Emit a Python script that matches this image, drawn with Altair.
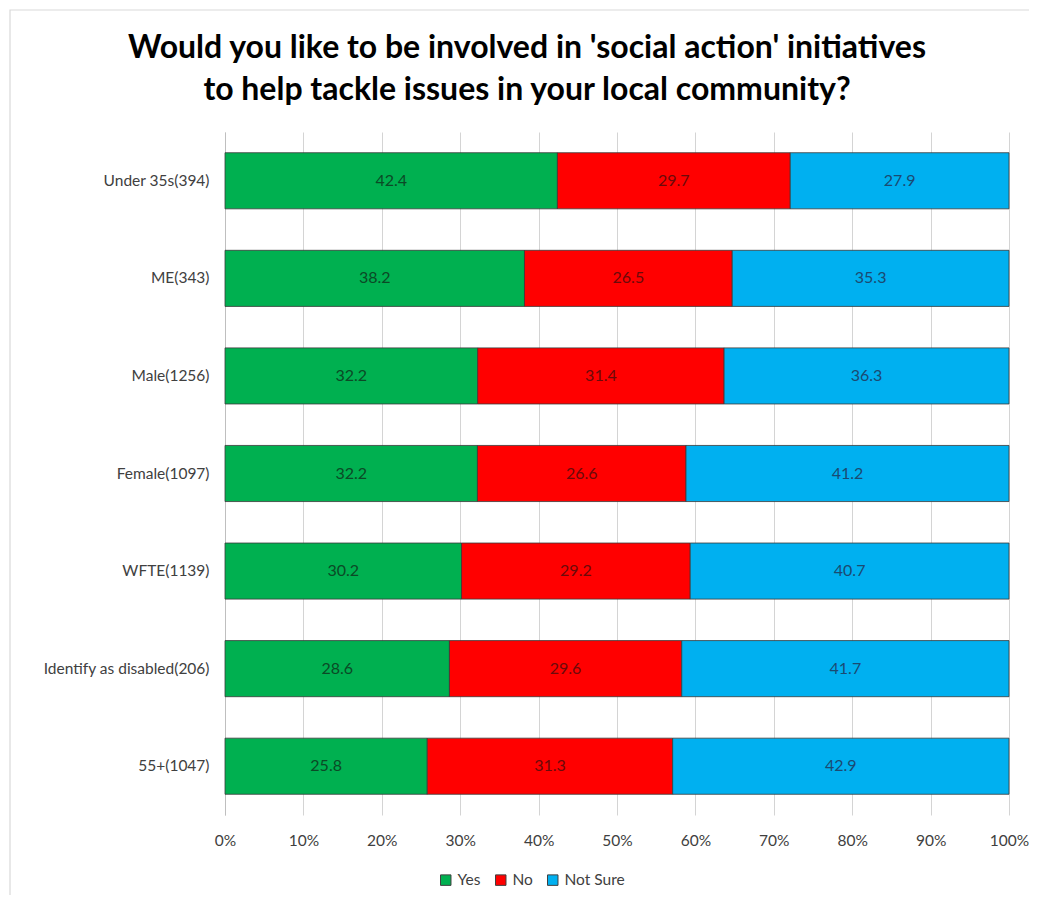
import altair as alt
import pandas as pd

categories = ["Under 35s(394)", "ME(343)", "Male(1256)", "Female(1097)",
              "WFTE(1139)", "Identify as disabled(206)", "55+(1047)"]
responses = ["Yes", "No", "Not Sure"]
yes_vals = [42.4, 38.2, 32.2, 32.2, 30.2, 28.6, 25.8]
no_vals = [29.7, 26.5, 31.4, 26.6, 29.2, 29.6, 31.3]
notsure_vals = [27.9, 35.3, 36.3, 41.2, 40.7, 41.7, 42.9]
bar_colors = ["#00B050", "#FF0000", "#00B0F0"]
label_colors = ["#0B4A26", "#6B0A0A", "#1B4A72"]
x_ticks = [0, 0.1, 0.2, 0.3, 0.4, 0.5, 0.6, 0.7, 0.8, 0.9, 1.0]

rows = []
for i, c in enumerate(categories):
    for j, (r, vals) in enumerate(zip(responses, [yes_vals, no_vals, notsure_vals])):
        rows.append({"group": c, "response": r, "value": vals[i], "order": j,
                     "label": f"{vals[i]:.1f}"})
df = pd.DataFrame(rows)

LBL_FONT = "Lato"
TITLE_FONT = "Lato"

base = alt.Chart(df).transform_stack(
    stack="value", groupby=["group"], as_=["start", "end"],
    sort=[alt.SortField("order", order="ascending")], offset="normalize"
).transform_calculate(mid="(datum.start + datum.end) / 2")

y_enc = alt.Y("group:N", sort=categories, title=None,
              scale=alt.Scale(paddingInner=0.425, paddingOuter=0.2125),
              axis=alt.Axis(labelFont=LBL_FONT, labelFontSize=15.5, labelColor="#404040",
                            ticks=False, labelPadding=16, domainColor="#BFBFBF",
                            labelLimit=300))

bars = base.mark_bar(stroke="#3A3A3A", strokeWidth=0.8).encode(
    x=alt.X("start:Q", title=None,
            scale=alt.Scale(domain=[0, 1], nice=False),
            axis=alt.Axis(values=x_ticks, format=".0%", domain=False, ticks=False,
                          grid=True, gridColor="#D4D4D4", labelFont=LBL_FONT,
                          labelFontSize=15.5, labelColor="#404040", labelPadding=18,
                          labelFlush=False, labelOverlap=False)),
    x2="end:Q",
    y=y_enc,
    fill=alt.Fill("response:N", sort=responses,
                  scale=alt.Scale(domain=responses, range=bar_colors),
                  legend=alt.Legend(title=None, orient="none", direction="horizontal",
                                    legendX=213, legendY=740,
                                    symbolType="square", symbolSize=110,
                                    symbolStrokeColor="#404040", symbolStrokeWidth=1,
                                    labelFont=LBL_FONT, labelFontSize=15.5,
                                    labelColor="#404040", columnPadding=12,
                                    labelOffset=4)),
)

texts = base.mark_text(font=LBL_FONT, fontSize=16).encode(
    x="mid:Q",
    y=alt.Y("group:N", sort=categories),
    text="label:N",
    color=alt.Color("response:N", scale=alt.Scale(domain=responses, range=label_colors),
                    legend=None),
)

frame = alt.Chart(alt.Data(values=[{"a": 1}])).mark_rect(
    fill="transparent", stroke="#D9D9D9", strokeWidth=1.2, clip=False
).encode(x=alt.value(-215), x2=alt.value(805), y=alt.value(-122), y2=alt.value(765))

chart = alt.layer(frame, bars, texts).resolve_scale(color="independent").properties(
    width=784, height=683,
    autosize=alt.AutoSizeParams(type="none"),
    padding={"left": 217, "top": 124, "right": 20, "bottom": 80},
    title=alt.Title(["Would you like to be involved in 'social action' initiatives",
                     "to help tackle issues in your local community?"],
                    font=TITLE_FONT, fontSize=32, fontWeight="bold", color="#000000",
                    anchor="middle", frame="group", dx=-90, dy=124, lineHeight=42,
                    offset=26),
).configure_view(stroke=None)

chart.save("out.html", embed_options={"renderer": "svg", "actions": False})
